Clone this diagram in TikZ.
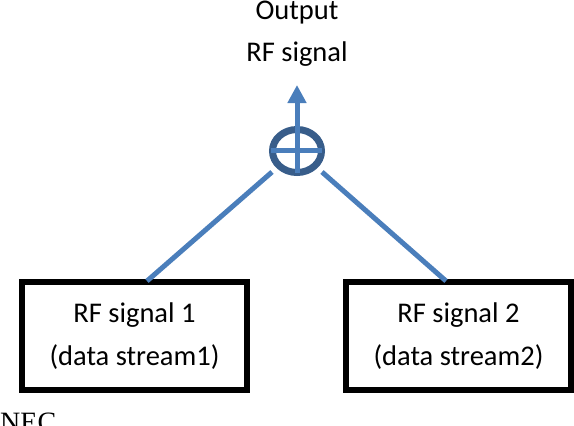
\documentclass[tikz,border=0pt]{standalone}
\usepackage{fontspec}
\setmainfont{Carlito}
\newfontfamily\necfont{Liberation Serif}
\usetikzlibrary{arrows.meta,shapes.geometric,positioning}
\definecolor{xblue}{RGB}{74,126,187}
\definecolor{xnavy}{RGB}{56,93,138}

\begin{document}
\begin{tikzpicture}[
  x=1pt, y=-1pt,
  box/.style={draw=black, line width=6pt, minimum width=225pt, minimum height=108pt,
              inner sep=0pt, font=\fontsize{28.5}{43}\selectfont, align=center},
  label/.style={inner sep=0pt, font=\fontsize{28.5}{31}\selectfont},
  sumnode/.style={draw=xnavy, ellipse, line width=7pt, minimum width=49pt, minimum height=43pt, inner sep=0pt},
  arr/.style={-{Triangle[width=18pt,length=18pt]}, color=xblue, line width=5pt},
  wire/.style={color=xblue, line width=5pt}
]
  \useasboundingbox (0,0) rectangle (574,426);
  \begin{scope}
    \clip (0,0) rectangle (574,426);
    \node[label] (output) at (297,13) {Output};
    \node[label] (rfout)  at (297,54) {RF signal};

    \node[sumnode] (sum) at (297,151) {};
    \node[box] (sig1) at (134.5,336) {RF signal 1\\(data stream1)};
    \node[box] (sig2) at (458.5,336) {RF signal 2\\(data stream2)};
    \node[font=\necfont\fontsize{28}{28}\selectfont, anchor=base west, inner sep=0pt] (nec) at (0,431) {NEC};

    \coordinate (in1)  at (272,172);
    \coordinate (in2)  at (322,172);
    \coordinate (top)  at (297,85);
    \coordinate (sumb) at (297,173);
    \coordinate (barl) at (271,150.5);
    \coordinate (barr) at (322,150.5);
    \coordinate (out1) at (147,281);
    \coordinate (out2) at (446,281);

    \draw[arr]  (sumb) -- (top);
    \draw[wire] (barl) -- (barr);
    \draw[wire] (out1) -- (in1);
    \draw[wire] (out2) -- (in2);
  \end{scope}
\end{tikzpicture}
\end{document}
